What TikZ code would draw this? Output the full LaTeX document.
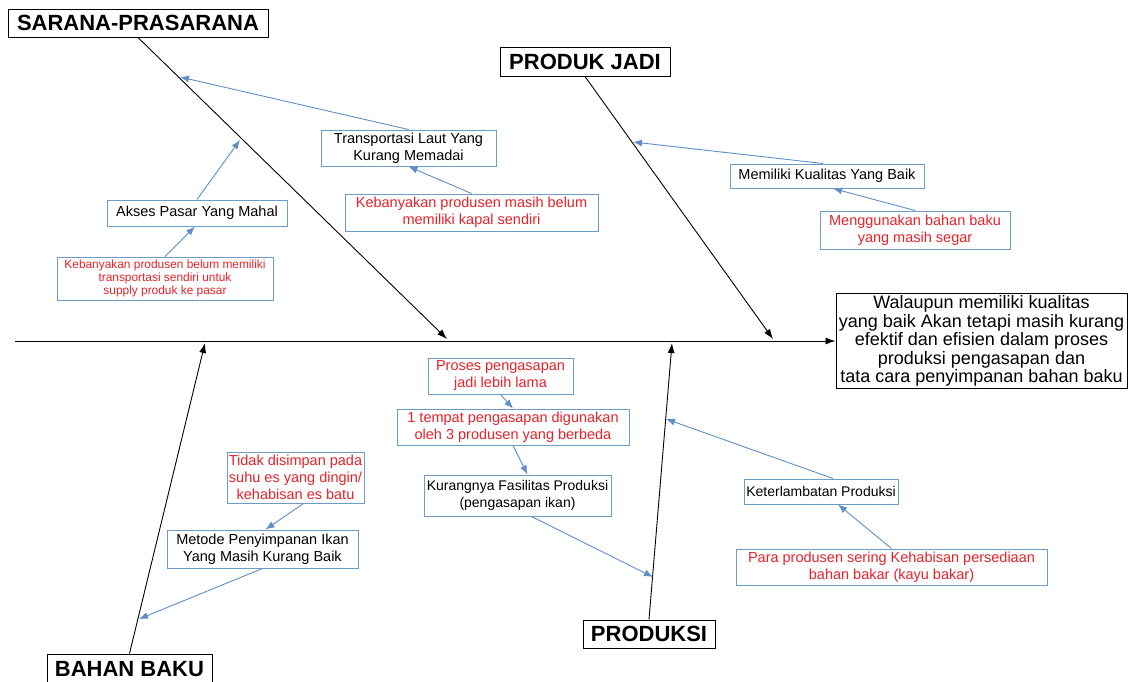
\documentclass[tikz,border=0pt]{standalone}
\usepackage{fontspec}
\setmainfont{Liberation Sans}
\usetikzlibrary{arrows.meta,calc}
\definecolor{bblue}{HTML}{6E9CC8}
\definecolor{ablue}{HTML}{5D8FC6}
\definecolor{rtext}{HTML}{E5232B}
\begin{document}
\begin{tikzpicture}[x=1pt,y=-1pt,
  title/.style={draw=black, line width=1pt, fill=white, font=\fontsize{22}{24}\selectfont\bfseries, inner sep=0pt},
  cause/.style={draw=bblue, line width=1pt, fill=white, font=\fontsize{14.5}{17}\selectfont, align=center, inner sep=0pt},
  rcause/.style={cause, text=rtext},
  bone/.style={draw=black, line width=0.9pt, -{Latex[length=10pt,width=7pt]}},
  sub/.style={draw=ablue, line width=0.9pt, -{Latex[length=9pt,width=7pt]}}]
\useasboundingbox (0,0) rectangle (1130,681);
\clip (0,0) rectangle (1130,681);
% effect box
\node[draw=black, line width=1pt, fill=white, align=center, inner sep=0pt,
  font=\fontsize{18}{18.6}\selectfont, minimum width=291pt, minimum height=95pt]
  (result) at (981.5,341) {Walaupun memiliki kualitas\\yang baik Akan tetapi masih kurang\\ efektif dan efisien dalam proses\\produksi pengasapan dan\\tata cara penyimpanan bahan baku};
% coordinates
\coordinate (spine) at (15,341);
\coordinate (sTip) at (447,339);
\coordinate (pTip) at (773,339);
\coordinate (bTip) at (205,343);
\coordinate (kTip) at (672,343);
\coordinate (s1) at (240,140);
\coordinate (s2) at (180,77);
\coordinate (p1) at (633,142);
\coordinate (b1) at (139,619);
\coordinate (k1) at (653,577);
\coordinate (k2) at (666,419);
% title nodes
\node[title, minimum width=260pt, minimum height=28pt] (sarana) at (138,23) {SARANA-PRASARANA};
\node[title, minimum width=170pt, minimum height=29pt] (produk) at (585,61.5) {PRODUK JADI};
\node[title, minimum width=165pt, minimum height=30pt] (bahan) at (129.5,669) {BAHAN BAKU};
\node[title, minimum width=132pt, minimum height=28pt] (produksi) at (649,634) {PRODUKSI};
% spine and bones
\draw[bone] (spine) -- (result.west);
\draw[bone] (sarana.south) -- (sTip);
\draw[bone] (produk.south) -- (pTip);
\draw[bone] (bahan.north) -- (bTip);
\draw[bone] (produksi.north) -- (kTip);
% cause boxes
\node[cause, minimum width=180pt, minimum height=26pt] (akses) at (197,213) {Akses Pasar Yang Mahal};
\node[rcause, font=\fontsize{11.9}{13.2}\selectfont, minimum width=216pt, minimum height=43pt] (red1) at (165,278.5) {Kebanyakan produsen belum memiliki\\transportasi sendiri untuk\\supply produk ke pasar};
\node[cause, minimum width=175pt, minimum height=36pt] (transp) at (408.5,148) {Transportasi Laut Yang\\Kurang Memadai};
\node[rcause, minimum width=253pt, minimum height=37pt] (red2) at (471.5,212.5) {Kebanyakan produsen masih belum\\memiliki kapal sendiri};
\node[cause, minimum width=194pt, minimum height=24pt] (kual) at (827,176) {Memiliki Kualitas Yang Baik};
\node[rcause, minimum width=190pt, minimum height=38pt] (red3) at (915,230) {Menggunakan bahan baku\\yang masih segar};
\node[rcause, minimum width=145pt, minimum height=36pt] (proses) at (500.5,376) {Proses pengasapan\\jadi lebih lama};
\node[rcause, minimum width=232pt, minimum height=36pt] (tempat) at (513,427) {1 tempat pengasapan digunakan\\oleh 3 produsen yang berbeda};
\node[cause, font=\fontsize{14}{16.5}\selectfont, minimum width=187pt, minimum height=41pt] (kurang) at (517.5,495.5) {Kurangnya Fasilitas Produksi\\(pengasapan ikan)};
\node[cause, font=\fontsize{14}{16}\selectfont, minimum width=154pt, minimum height=25pt] (keter) at (821,491.5) {Keterlambatan Produksi};
\node[rcause, minimum width=311pt, minimum height=36pt] (para) at (891.5,567) {Para produsen sering Kehabisan persediaan\\bahan bakar (kayu bakar)};
\node[rcause, minimum width=137pt, minimum height=51pt] (tidak) at (295.5,477.5) {Tidak disimpan pada\\suhu es yang dingin/\\kehabisan es batu};
\node[cause, minimum width=191pt, minimum height=38pt] (metode) at (262.5,549) {Metode Penyimpanan Ikan\\Yang Masih Kurang Baik};
% sub arrows
\draw[sub] (akses.north) -- (s1);
\draw[sub] (red1.north) -- ([xshift=-2pt]akses.south);
\draw[sub] (transp.north) -- (s2);
\draw[sub] (red2.north) -- (transp.south);
\draw[sub] ([xshift=-4pt]kual.north) -- (p1);
\draw[sub] (red3.north) -- ([xshift=6pt]kual.south);
\draw[sub] (proses.south) -- (tempat.north);
\draw[sub] (tempat.south) -- ([xshift=10pt]kurang.north);
\draw[sub] ([xshift=14pt]kurang.south) -- (k1);
\draw[sub] ([xshift=12pt]keter.north) -- (k2);
\draw[sub] (para.north) -- ([xshift=17pt]keter.south);
\draw[sub] ([xshift=8pt]tidak.south) -- ([xshift=3pt]metode.north);
\draw[sub] (metode.south) -- (b1);
\end{tikzpicture}
\end{document}
